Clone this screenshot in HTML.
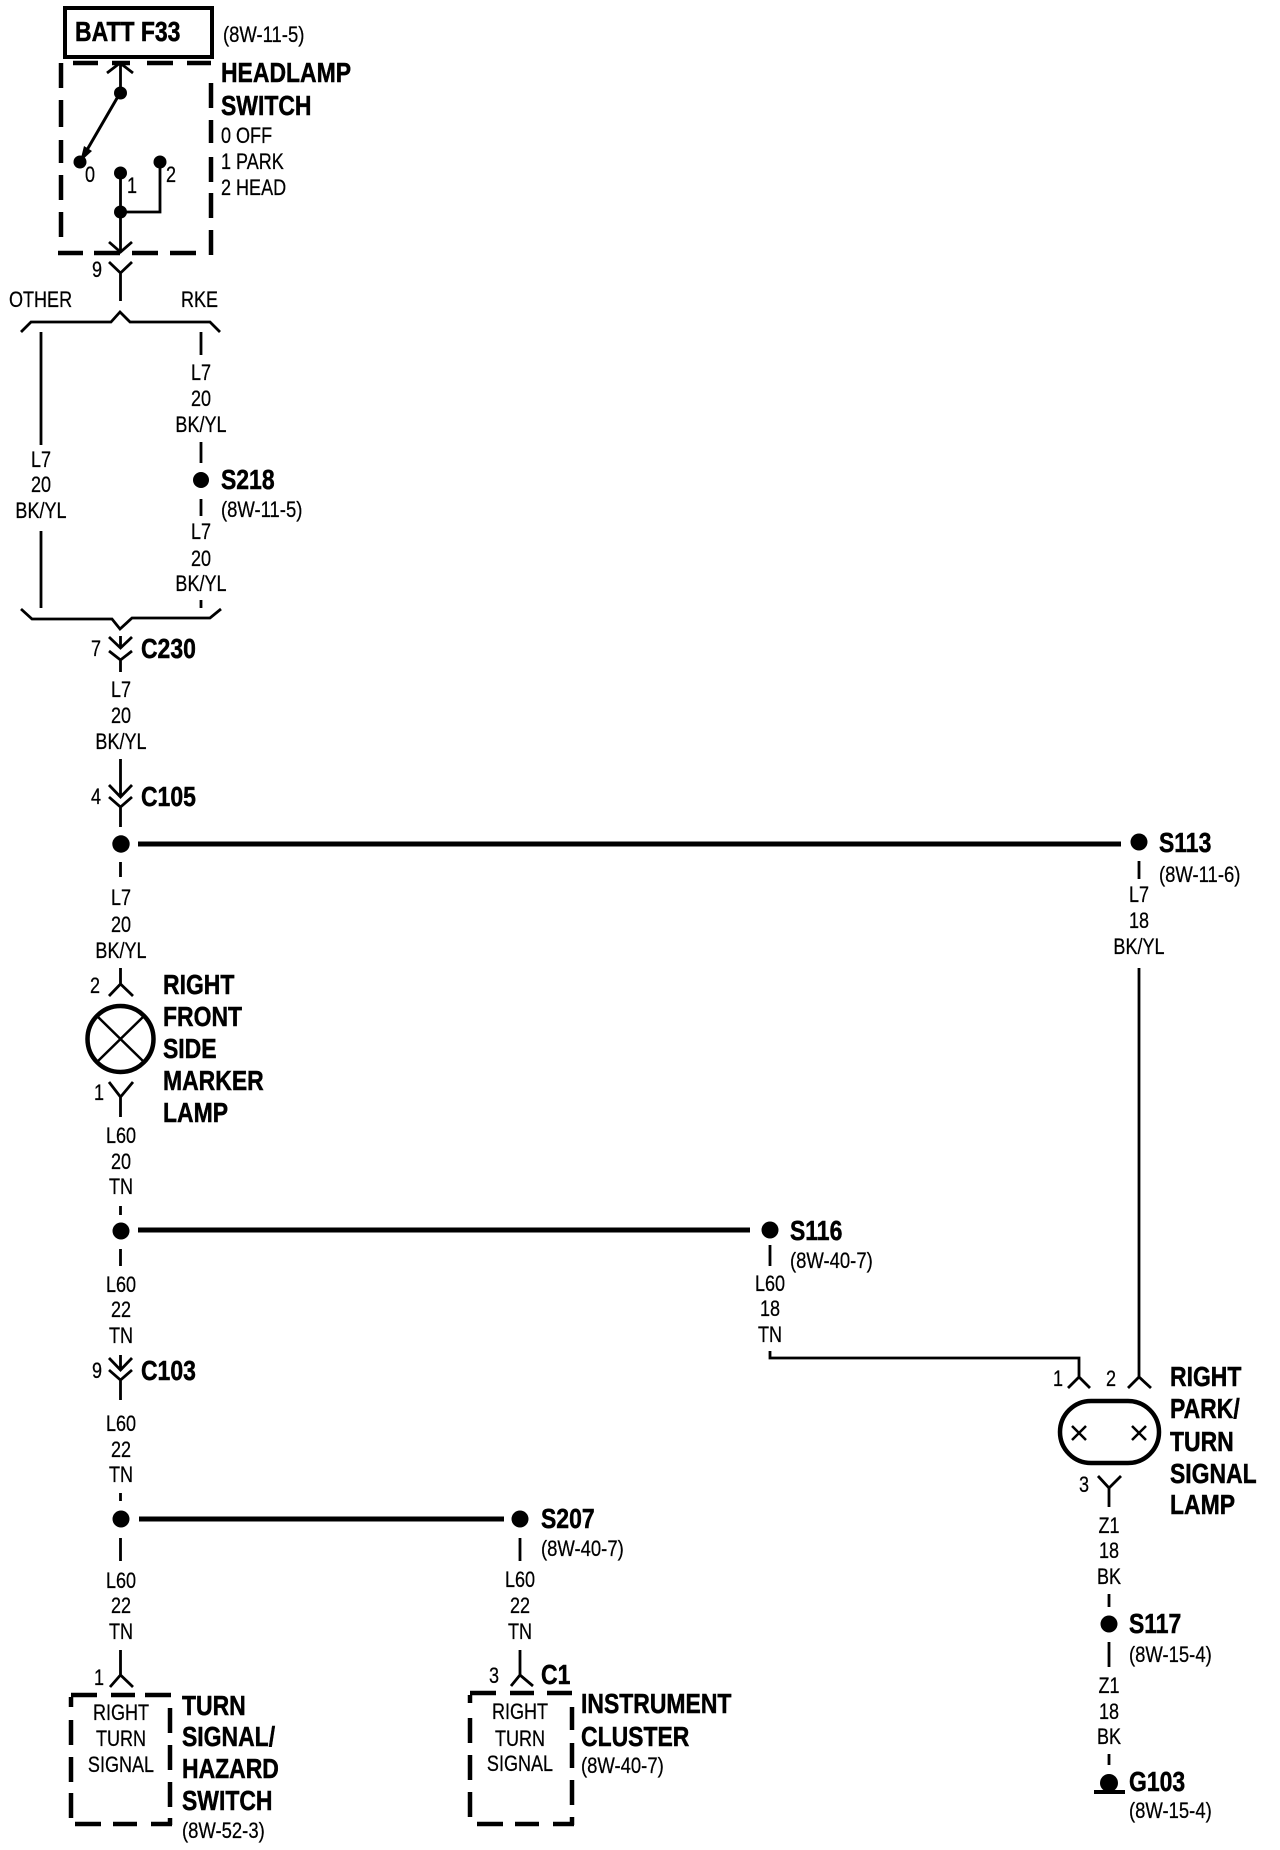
<!DOCTYPE html>
<html><head><meta charset="utf-8"><title>Wiring diagram</title>
<style>
html,body{margin:0;padding:0;background:#fff}
svg{display:block}
text{font-family:"Liberation Sans",sans-serif;fill:#000;stroke:#000;stroke-width:.25;transform-box:fill-box;transform:scaleX(.82);transform-origin:0 0}
.r{font-size:22px}
.p{font-size:22px;transform:scaleX(.84)}
.b{font-size:28px;font-weight:bold;stroke-width:.5}
.m{font-size:22px;text-anchor:middle;transform-origin:50% 0}
</style></head><body>
<svg width="1280" height="1850" viewBox="0 0 1280 1850" xmlns="http://www.w3.org/2000/svg">
<rect width="1280" height="1850" fill="#fff" stroke="none"/>
<!-- BATT -->
<rect x="65" y="8" width="147" height="49" fill="none" stroke="#000" stroke-width="4"/>
<text class="b" x="75" y="41">BATT F33</text>
<text class="p" x="223" y="42">(8W-11-5)</text>
<!-- dashed boxes -->
<path fill="none" stroke="#000" stroke-width="4.5" d="M73 63H98M112 63H130M147 63H173M187 63H211M61 63V88M61 100V127M61 140V163M61 175V200M61 212V237M211 83V108M211 120V143M211 157V182M211 193V218M211 230V255M58 253H83M94 253H120M132 253H158M170 253H196"/>
<path fill="none" stroke="#000" stroke-width="4.5" d="M71 1695H97M111 1695H135M145 1695H171M71 1697V1707M71 1720V1745M71 1757V1782M71 1793V1818M170 1708V1733M170 1745V1770M170 1782V1807M170 1818V1825M75 1824H101M113 1824H137M151 1824H172"/>
<path fill="none" stroke="#000" stroke-width="4.5" d="M470 1693H496M510 1693H534M547 1693H572M470 1695V1703M470 1718V1743M470 1755V1780M470 1792V1817M572 1707V1730M572 1743V1768M572 1780V1805M572 1817V1825M477 1824H503M515 1824H539M553 1824H574"/>
<!-- thin wires and connectors -->
<path fill="none" stroke="#000" stroke-width="2.8" d="
M107 73L120 63L133 73M120.500 63V93M120.500 173V252M109 242L120.500 252L132 242
M109 262L120.500 273L132 262M120.500 273V301
M160 162V212H120
M21 332L31 322H111L120 312L130 322H210L220 332
M21 609L32 619H112L120 629L132 618H210L221 609
M41 332V445M41 531V608
M201 332V355M201 442V463M201 499V516M201 600V608
M109 637L120.500 648L132 637M120.500 636V648M109 651L120.500 660L132 651M120.500 660V672
M120.500 759V797M109 785L120.500 797L132 785M109 797L120.500 807L132 797M120.500 807V827
M120.500 862V877
M120.500 968V984M109 996L120.500 984L133 996
M109 1082L120.500 1097L133 1082M120.500 1097V1117
M120.500 1206V1215M120.500 1249V1266
M120.500 1355V1370M109 1358L120.500 1370L132 1358M109 1370L120.500 1380L132 1370M120.500 1380V1400
M120.500 1493V1501M120.500 1538V1561
M120.500 1650V1675M110 1687L120.500 1675L133 1687
M520 1538V1561M520 1650V1675M511 1686L520 1675L533 1686
M1139 861V879M1139 968V1377M1128 1388L1139 1377L1151 1388
M770 1245V1266M770 1351V1358H1079V1377M1068 1388L1079 1377L1090 1388
M1098 1476L1109 1488L1121 1476M1109 1488V1507
M1109 1594V1607M1109 1642V1667M1109 1754V1765
"/>
<!-- thick horizontals -->
<path fill="none" stroke="#000" stroke-width="5" d="M138 844H1121M138 1230H750M139 1519H504"/>
<!-- switch -->
<path fill="none" stroke="#000" stroke-width="3" d="M120 93L80 162"/>
<path d="M80 162L84 146L92 151Z" fill="#000"/>
<g fill="#000">
<circle cx="120.500" cy="93" r="6.500"/><circle cx="80" cy="162" r="6.500"/><circle cx="120.500" cy="173" r="6.500"/><circle cx="160" cy="162" r="6.500"/><circle cx="120.500" cy="212" r="6.500"/>
<circle cx="201" cy="480" r="8"/><circle cx="121" cy="844" r="8.700"/><circle cx="1139" cy="842" r="8.500"/>
<circle cx="121" cy="1231" r="8.500"/><circle cx="770" cy="1230" r="8.500"/>
<circle cx="121" cy="1519" r="8.500"/><circle cx="520" cy="1519" r="8.500"/>
<circle cx="1109" cy="1624" r="8.500"/>
<circle cx="1109" cy="1783" r="9"/>
<rect x="1094" y="1790" width="31" height="4"/>
</g>
<!-- lamps -->
<circle cx="120.500" cy="1039" r="33" fill="none" stroke="#000" stroke-width="4.500"/>
<path fill="none" stroke="#000" stroke-width="2.500" d="M97 1016L144 1062M144 1016L97 1062"/>
<rect x="1060" y="1401" width="99" height="62" rx="31" fill="none" stroke="#000" stroke-width="4.500"/>
<path fill="none" stroke="#000" stroke-width="2.500" d="M1072 1426L1086 1440M1086 1426L1072 1440M1132 1426L1146 1440M1146 1426L1132 1440"/>
<!-- switch text -->
<text class="b" x="221" y="82">HEADLAMP</text>
<text class="b" x="221" y="115">SWITCH</text>
<text class="r" x="221" y="143">0 OFF</text>
<text class="r" x="221" y="169">1 PARK</text>
<text class="r" x="221" y="195">2 HEAD</text>
<text class="r" x="85" y="182">0</text>
<text class="r" x="127" y="193">1</text>
<text class="r" x="166" y="182">2</text>
<text class="r" x="92" y="277">9</text>
<text class="r" x="9" y="307">OTHER</text>
<text class="r" x="181" y="307">RKE</text>
<!-- wire labels -->
<text class="m" x="201" y="380">L7</text><text class="m" x="201" y="406">20</text><text class="m" x="201" y="432">BK/YL</text>
<text class="m" x="41" y="467">L7</text><text class="m" x="41" y="492">20</text><text class="m" x="41" y="518">BK/YL</text>
<text class="b" x="221" y="489">S218</text>
<text class="p" x="221" y="517">(8W-11-5)</text>
<text class="m" x="201" y="539">L7</text><text class="m" x="201" y="566">20</text><text class="m" x="201" y="591">BK/YL</text>
<text class="r" x="91" y="656">7</text><text class="b" x="141" y="658">C230</text>
<text class="m" x="121" y="697">L7</text><text class="m" x="121" y="723">20</text><text class="m" x="121" y="749">BK/YL</text>
<text class="r" x="91" y="804">4</text><text class="b" x="141" y="806">C105</text>
<text class="m" x="121" y="905">L7</text><text class="m" x="121" y="932">20</text><text class="m" x="121" y="958">BK/YL</text>
<text class="b" x="1159" y="852">S113</text>
<text class="p" x="1159" y="882">(8W-11-6)</text>
<text class="m" x="1139" y="902">L7</text><text class="m" x="1139" y="928">18</text><text class="m" x="1139" y="954">BK/YL</text>
<text class="r" x="90" y="993">2</text>
<text class="b" x="163" y="994">RIGHT</text><text class="b" x="163" y="1026">FRONT</text><text class="b" x="163" y="1058">SIDE</text><text class="b" x="163" y="1090">MARKER</text><text class="b" x="163" y="1122">LAMP</text>
<text class="r" x="94" y="1100">1</text>
<text class="m" x="121" y="1143">L60</text><text class="m" x="121" y="1169">20</text><text class="m" x="121" y="1194">TN</text>
<text class="b" x="790" y="1240">S116</text>
<text class="p" x="790" y="1268">(8W-40-7)</text>
<text class="m" x="770" y="1291">L60</text><text class="m" x="770" y="1316">18</text><text class="m" x="770" y="1342">TN</text>
<text class="m" x="121" y="1292">L60</text><text class="m" x="121" y="1317">22</text><text class="m" x="121" y="1343">TN</text>
<text class="r" x="92" y="1378">9</text><text class="b" x="141" y="1380">C103</text>
<text class="m" x="121" y="1431">L60</text><text class="m" x="121" y="1457">22</text><text class="m" x="121" y="1482">TN</text>
<text class="b" x="541" y="1528">S207</text>
<text class="p" x="541" y="1556">(8W-40-7)</text>
<text class="m" x="520" y="1587">L60</text><text class="m" x="520" y="1613">22</text><text class="m" x="520" y="1639">TN</text>
<text class="m" x="121" y="1588">L60</text><text class="m" x="121" y="1613">22</text><text class="m" x="121" y="1639">TN</text>
<!-- right lamp -->
<text class="r" x="1053" y="1386">1</text><text class="r" x="1106" y="1386">2</text>
<text class="b" x="1170" y="1386">RIGHT</text><text class="b" x="1170" y="1418">PARK/</text><text class="b" x="1170" y="1451">TURN</text><text class="b" x="1170" y="1483">SIGNAL</text><text class="b" x="1170" y="1514">LAMP</text>
<text class="r" x="1079" y="1492">3</text>
<text class="m" x="1109" y="1533">Z1</text><text class="m" x="1109" y="1558">18</text><text class="m" x="1109" y="1584">BK</text>
<text class="b" x="1129" y="1633">S117</text>
<text class="p" x="1129" y="1662">(8W-15-4)</text>
<text class="m" x="1109" y="1693">Z1</text><text class="m" x="1109" y="1719">18</text><text class="m" x="1109" y="1744">BK</text>
<text class="b" x="1129" y="1791">G103</text>
<text class="p" x="1129" y="1818">(8W-15-4)</text>
<!-- bottom components -->
<text class="r" x="94" y="1685">1</text>
<text class="m" x="121" y="1720">RIGHT</text><text class="m" x="121" y="1746">TURN</text><text class="m" x="121" y="1772">SIGNAL</text>
<text class="b" x="182" y="1715">TURN</text><text class="b" x="182" y="1746">SIGNAL/</text><text class="b" x="182" y="1778">HAZARD</text><text class="b" x="182" y="1810">SWITCH</text>
<text class="p" x="182" y="1838">(8W-52-3)</text>
<text class="r" x="489" y="1683">3</text><text class="b" x="541" y="1684">C1</text>
<text class="m" x="520" y="1719">RIGHT</text><text class="m" x="520" y="1746">TURN</text><text class="m" x="520" y="1771">SIGNAL</text>
<text class="b" x="581" y="1713">INSTRUMENT</text><text class="b" x="581" y="1746">CLUSTER</text>
<text class="p" x="581" y="1773">(8W-40-7)</text>
</svg>
</body></html>
